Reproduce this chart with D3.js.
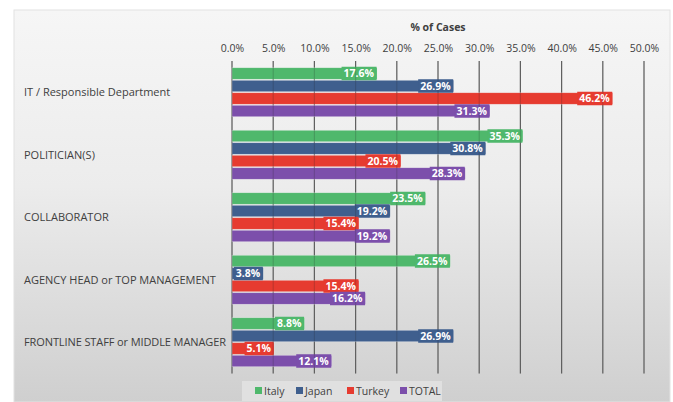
<!DOCTYPE html>
<html>
<head>
<meta charset="utf-8">
<script src="https://cdn.jsdelivr.net/npm/d3@7"></script>
<style>
  html, body { margin: 0; padding: 0; background: #ffffff; }
  svg { display: block; font-family: "Open Sans", "Noto Sans", sans-serif; }
</style>
</head>
<body>
<svg id="chart" width="673" height="402"></svg>
<script>
// Who drives the project: share of cases per actor, by country
const categories = [
  "IT / Responsible Department",
  "POLITICIAN(S)",
  "COLLABORATOR",
  "AGENCY HEAD or TOP MANAGEMENT",
  "FRONTLINE STAFF or MIDDLE MANAGER"
];
const seriesNames = ["Italy", "Japan", "Turkey", "TOTAL"];
const italy  = [17.6, 35.3, 23.5, 26.5, 8.8];
const japan  = [26.9, 30.8, 19.2, 3.8, 26.9];
const turkey = [46.2, 20.5, 15.4, 15.4, 5.1];
const total  = [31.3, 28.3, 19.2, 16.2, 12.1];
const tickValues = [0, 5, 10, 15, 20, 25, 30, 35, 40, 45, 50];
const axisTitle = "% of Cases";

const seriesValues = [italy, japan, turkey, total];
const colors = ["#4fb86c", "#3f5f8e", "#e63b30", "#7c4fab"];

const svg = d3.select("#chart");
const W = 673, H = 402;

// panel background with soft vertical gradient
const defs = svg.append("defs");
const grad = defs.append("linearGradient").attr("id", "bg")
  .attr("x1", 0).attr("y1", 0).attr("x2", 0).attr("y2", 1);
grad.append("stop").attr("offset", "0%").attr("stop-color", "#f6f6f6");
grad.append("stop").attr("offset", "45%").attr("stop-color", "#ececec");
grad.append("stop").attr("offset", "100%").attr("stop-color", "#cfcfcf");

svg.append("rect").attr("x", 14).attr("y", 10).attr("width", 656).attr("height", H - 10)
  .attr("fill", "url(#bg)").attr("stroke", "#e2e2e2").attr("stroke-width", 1);

const plot = { left: 232, right: 644, top: 61, bottom: 373.5 };

const x = d3.scaleLinear().domain([0, 50]).range([plot.left, plot.right]);
const y0 = d3.scaleBand().domain(categories).range([plot.top, plot.bottom])
  .paddingInner(0.2).paddingOuter(0.1);
const y1 = d3.scaleBand().domain(seriesNames).range([0, y0.bandwidth()]);

// axis title
svg.append("text").attr("x", (plot.left + plot.right) / 2).attr("y", 31)
  .attr("text-anchor", "middle").attr("font-size", 10.5).attr("font-weight", "bold")
  .attr("fill", "#404040").text(axisTitle);

// top axis labels
const axis = d3.axisTop(x).tickValues(tickValues)
  .tickFormat(d => d3.format(".1f")(d) + "%").tickSize(0).tickPadding(0);
const axisG = svg.append("g").attr("transform", `translate(0,52)`).call(axis);
axisG.select(".domain").remove();
axisG.selectAll("text").attr("font-size", 10.5).attr("fill", "#404040")
  .attr("font-family", "\"Open Sans\", sans-serif");

// vertical gridlines
svg.append("g").selectAll("line").data(tickValues).join("line")
  .attr("x1", d => x(d)).attr("x2", d => x(d))
  .attr("y1", plot.top).attr("y2", plot.bottom)
  .attr("stroke", "#6f6f6f").attr("stroke-width", 1.2);

// category labels
svg.append("g").selectAll("text").data(categories).join("text")
  .attr("x", 24).attr("y", d => y0(d) + y0.bandwidth() / 2)
  .attr("dy", "0.35em").attr("font-size", 11).attr("fill", "#404040")
  .attr("textLength", d => d.length > 30 ? 202 : null)
  .text(d => d);

// bars
const rows = [];
categories.forEach((c, i) => {
  seriesNames.forEach((s, j) => {
    rows.push({ cat: c, series: s, value: seriesValues[j][i], color: colors[j] });
  });
});

const barG = svg.append("g");
barG.selectAll("rect").data(rows).join("rect")
  .attr("x", x(0))
  .attr("y", d => y0(d.cat) + y1(d.series) + 0.5)
  .attr("width", d => x(d.value) - x(0))
  .attr("height", y1.bandwidth() - 1)
  .attr("fill", d => d.color)
  .attr("stroke", "#f4f4f4").attr("stroke-opacity", 0.6).attr("stroke-width", 0.6);

// value label boxes, in the series colour, at the inner end of each bar
const fmt = d => d3.format(".1f")(d) + "%";
const boxG = svg.append("g");
const textG = svg.append("g");
rows.forEach(d => {
  const t = textG.append("text")
    .attr("x", x(d.value) - 3)
    .attr("y", y0(d.cat) + y1(d.series) + y1.bandwidth() / 2)
    .attr("dy", "0.36em").attr("text-anchor", "end")
    .attr("font-size", 10.5).attr("font-weight", "bold").attr("fill", "#ffffff")
    .text(fmt(d.value));
  const bb = t.node().getBBox();
  boxG.append("rect")
    .attr("x", bb.x - 2).attr("y", y0(d.cat) + y1(d.series) - 0.5)
    .attr("width", bb.width + 4).attr("height", y1.bandwidth() + 1)
    .attr("fill", d.color);
});

// faint gridlines showing through the bars and label boxes
svg.insert("g", function () { return textG.node(); })
  .selectAll("line").data(tickValues).join("line")
  .attr("x1", d => x(d)).attr("x2", d => x(d))
  .attr("y1", plot.top).attr("y2", plot.bottom)
  .attr("stroke", "#1a1a1a").attr("stroke-opacity", 0.18).attr("stroke-width", 1.2);

// legend
const legend = svg.append("g");
legend.append("rect").attr("x", 242).attr("y", 381).attr("width", 200).attr("height", 20)
  .attr("fill", "#e0e0e0");
const legX = [255, 296, 347, 400];
seriesNames.forEach((s, j) => {
  legend.append("rect").attr("x", legX[j]).attr("y", 387).attr("width", 7).attr("height", 7)
    .attr("fill", colors[j]);
  legend.append("text").attr("x", legX[j] + 9).attr("y", 391).attr("dy", "0.35em")
    .attr("font-size", 10.5).attr("fill", "#404040").text(s);
});
</script>
</body>
</html>
